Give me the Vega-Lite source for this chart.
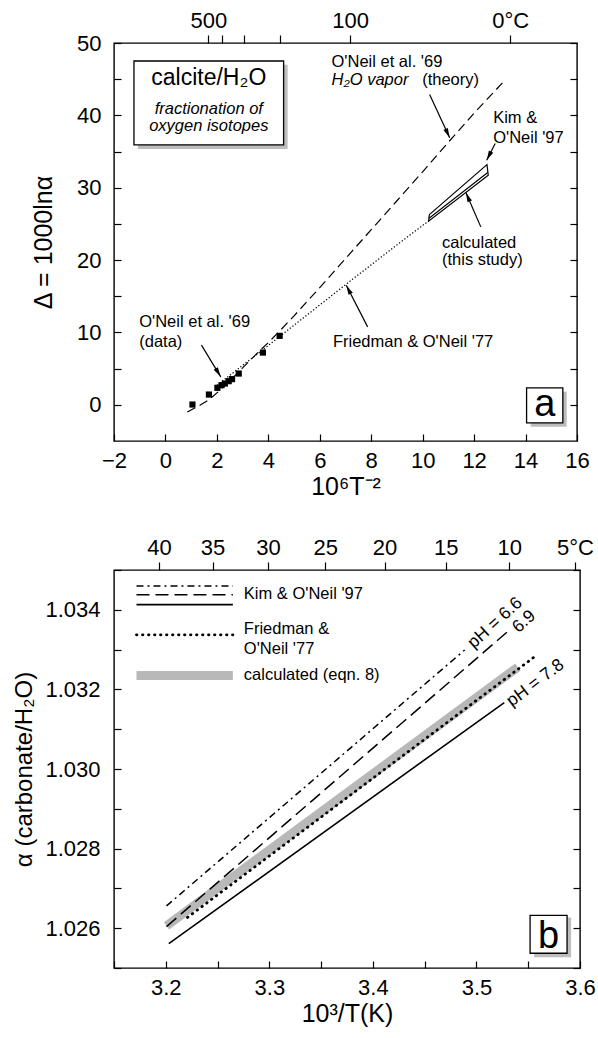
{
  "$schema": "https://vega.github.io/schema/vega-lite/v6.json",
  "padding": {"top": 8, "left": 12, "right": 2, "bottom": 2},
  "spacing": 35,
  "config": {
    "font": "Liberation Sans",
    "view": {"stroke": "#000", "strokeWidth": 1.4},
    "axis": {"grid": false, "domain": false, "tickColor": "#000", "labelColor": "#000", "titleColor": "#000", "labelFont": "Liberation Sans", "titleFont": "Liberation Sans", "labelFontSize": 22, "titleFontSize": 25, "titleFontWeight": "normal", "labelFlush": false, "labelOverlap": false, "labelBound": false, "tickWidth": 1.2},
    "text": {"font": "Liberation Sans", "color": "#000"}
  },
  "vconcat": [
    {
      "width": 463,
      "height": 398,
      "layer": [
        {
          "data": {"values": [{"x": -1.07, "x2": 4.75, "y": 47.0, "y2": 35.36}, {"x": 14.2, "x2": 15.6, "y": 1.8, "y2": -3.04}]},
          "mark": {"type": "rect", "color": "#bdbdbd"},
          "encoding": {
            "x": {"field": "x", "type": "quantitative", "scale": {"domain": [-2, 16], "nice": false, "zero": false}, "axis": null},
            "x2": {"field": "x2"},
            "y": {"field": "y", "type": "quantitative", "scale": {"domain": [-5, 50], "nice": false, "zero": false}, "axis": null},
            "y2": {"field": "y2"}
          }
        },
        {
          "data": {"values": [{"x": -1.224, "x2": 4.594, "y": 47.51, "y2": 35.91}, {"x": 14.04, "x2": 15.45, "y": 2.35, "y2": -2.49}]},
          "mark": {"type": "rect", "fill": "#fff", "stroke": "#000", "strokeWidth": 1.3},
          "encoding": {
            "x": {"field": "x", "type": "quantitative", "axis": null},
            "x2": {"field": "x2"},
            "y": {"field": "y", "type": "quantitative", "axis": null},
            "y2": {"field": "y2"}
          }
        },
        {
          "data": {"values": [{"x": 0.85, "y": -1.0}, {"x": 1.34, "y": -0.05}, {"x": 1.69, "y": 0.7}, {"x": 2.05, "y": 1.8}, {"x": 2.5, "y": 3.3}, {"x": 3.0, "y": 5.1}, {"x": 3.5, "y": 6.9}, {"x": 4.0, "y": 8.6}, {"x": 4.44, "y": 10.2}, {"x": 5.0, "y": 12.3}, {"x": 6.0, "y": 16.2}, {"x": 7.0, "y": 20.2}, {"x": 8.0, "y": 24.2}, {"x": 9.0, "y": 28.2}, {"x": 10.0, "y": 32.2}, {"x": 11.0, "y": 36.3}, {"x": 12.0, "y": 40.3}, {"x": 13.17, "y": 44.75}]},
          "mark": {"type": "line", "color": "#000", "strokeWidth": 1.2, "strokeDash": [9, 5]},
          "encoding": {
            "x": {"field": "x", "type": "quantitative", "scale": {"domain": [-2, 16], "nice": false, "zero": false},
              "axis": {"orient": "bottom", "values": [-2, 0, 2, 4, 6, 8, 10, 12, 14, 16], "tickSize": -7, "labelPadding": 16, "title": "10⁶T⁻²", "titlePadding": 3}},
            "y": {"field": "y", "type": "quantitative", "scale": {"domain": [-5, 50], "nice": false, "zero": false},
              "axis": {"orient": "left", "values": [0, 5, 10, 15, 20, 25, 30, 35, 40, 45, 50], "labelExpr": "datum.value % 10 == 0 ? datum.label : ''", "tickSize": -7, "labelPadding": 20, "title": "Δ = 1000lnα", "titlePadding": 20}}
          }
        },
        {
          "data": {"values": [{"x": 2.0, "y": 2.7}, {"x": 3.0, "y": 5.45}, {"x": 4.0, "y": 8.2}, {"x": 5.0, "y": 11.0}, {"x": 6.0, "y": 13.8}, {"x": 7.0, "y": 16.6}, {"x": 8.0, "y": 19.35}, {"x": 9.0, "y": 22.1}, {"x": 10.23, "y": 25.4}]},
          "mark": {"type": "line", "color": "#000", "strokeWidth": 1.2, "strokeDash": [1.3, 2]},
          "encoding": {
            "x": {"field": "x", "type": "quantitative", "scale": {"domain": [-2, 16], "nice": false, "zero": false},
              "axis": {"orient": "top", "values": [1.67291, 2.20687, 3.04413, 4.46686, 7.1818, 13.40287], "labelExpr": "round(1000/sqrt(datum.value)-273.15) == 500 ? '500' : round(1000/sqrt(datum.value)-273.15) == 100 ? '100' : datum.value > 13 ? '0°C' : ''", "tickSize": 8, "labelPadding": 3, "title": null}},
            "y": {"field": "y", "type": "quantitative", "scale": {"domain": [-5, 50], "nice": false, "zero": false},
              "axis": {"orient": "right", "values": [0, 5, 10, 15, 20, 25, 30, 35, 40, 45, 50], "labels": false, "tickSize": -7, "title": null}}
          }
        },
        {
          "data": {"values": [{"o": 1, "x": 10.26, "y": 26.28}, {"o": 2, "x": 12.5, "y": 33.19}, {"o": 3, "x": 12.55, "y": 31.73}, {"o": 4, "x": 10.23, "y": 25.37}, {"o": 5, "x": 10.26, "y": 26.28}]},
          "mark": {"type": "line", "color": "#000", "strokeWidth": 1.2},
          "encoding": {
            "x": {"field": "x", "type": "quantitative", "axis": null},
            "y": {"field": "y", "type": "quantitative", "axis": null},
            "order": {"field": "o"}
          }
        },
        {
          "data": {"values": [{"x": 10.25, "y": 25.78}, {"x": 12.53, "y": 32.1}]},
          "mark": {"type": "line", "color": "#000", "strokeWidth": 1.1},
          "encoding": {
            "x": {"field": "x", "type": "quantitative", "axis": null},
            "y": {"field": "y", "type": "quantitative", "axis": null}
          }
        },
        {
          "data": {"values": [{"x": 1.05, "y": 0.04}, {"x": 1.69, "y": 1.42}, {"x": 2.02, "y": 2.35}, {"x": 2.18, "y": 2.72}, {"x": 2.31, "y": 2.94}, {"x": 2.46, "y": 3.27}, {"x": 2.59, "y": 3.55}, {"x": 2.85, "y": 4.32}, {"x": 3.79, "y": 7.22}, {"x": 4.44, "y": 9.53}]},
          "mark": {"type": "point", "shape": "square", "filled": true, "color": "#000", "size": 38, "opacity": 1},
          "encoding": {
            "x": {"field": "x", "type": "quantitative", "axis": null},
            "y": {"field": "y", "type": "quantitative", "axis": null}
          }
        },
        {
          "data": {"values": [{"x": 10.27, "y": 42.9, "x2": 11.05, "y2": 36.9}, {"x": 12.82, "y": 36.1, "x2": 12.49, "y2": 33.8}, {"x": 12.26, "y": 24.59, "x2": 11.68, "y2": 29.33}, {"x": 7.86, "y": 10.77, "x2": 7.03, "y2": 16.53}, {"x": 1.4, "y": 8.25, "x2": 2.15, "y2": 3.87}]},
          "mark": {"type": "rule", "color": "#000", "strokeWidth": 1.2},
          "encoding": {
            "x": {"field": "x", "type": "quantitative", "axis": null},
            "y": {"field": "y", "type": "quantitative", "axis": null},
            "x2": {"field": "x2"},
            "y2": {"field": "y2"}
          }
        },
        {
          "data": {"values": [{"x": 11.05, "y": 36.9}]},
          "mark": {"type": "point", "shape": "M0,0L0.6,2.4L-0.6,2.4Z", "filled": true, "color": "#000", "size": 64, "opacity": 1, "angle": 155.2},
          "encoding": {"x": {"field": "x", "type": "quantitative", "axis": null}, "y": {"field": "y", "type": "quantitative", "axis": null}}
        },
        {
          "data": {"values": [{"x": 12.49, "y": 33.8}]},
          "mark": {"type": "point", "shape": "M0,0L0.6,2.4L-0.6,2.4Z", "filled": true, "color": "#000", "size": 64, "opacity": 1, "angle": 207},
          "encoding": {"x": {"field": "x", "type": "quantitative", "axis": null}, "y": {"field": "y", "type": "quantitative", "axis": null}}
        },
        {
          "data": {"values": [{"x": 11.68, "y": 29.33}]},
          "mark": {"type": "point", "shape": "M0,0L0.6,2.4L-0.6,2.4Z", "filled": true, "color": "#000", "size": 64, "opacity": 1, "angle": 336.4},
          "encoding": {"x": {"field": "x", "type": "quantitative", "axis": null}, "y": {"field": "y", "type": "quantitative", "axis": null}}
        },
        {
          "data": {"values": [{"x": 7.03, "y": 16.53}]},
          "mark": {"type": "point", "shape": "M0,0L0.6,2.4L-0.6,2.4Z", "filled": true, "color": "#000", "size": 64, "opacity": 1, "angle": 332.8},
          "encoding": {"x": {"field": "x", "type": "quantitative", "axis": null}, "y": {"field": "y", "type": "quantitative", "axis": null}}
        },
        {
          "data": {"values": [{"x": 2.15, "y": 3.87}]},
          "mark": {"type": "point", "shape": "M0,0L0.6,2.4L-0.6,2.4Z", "filled": true, "color": "#000", "size": 64, "opacity": 1, "angle": 148.7},
          "encoding": {"x": {"field": "x", "type": "quantitative", "axis": null}, "y": {"field": "y", "type": "quantitative", "axis": null}}
        },
        {
          "data": {"values": [{"x": 6.456, "y": 46.69, "t": "O'Neil et al. '69"}, {"x": 9.98, "y": 44.16, "t": "(theory)"}, {"x": 12.74, "y": 38.95, "t": "Kim &"}, {"x": 12.74, "y": 36.19, "t": "O'Neil '97"}, {"x": 10.75, "y": 21.7, "t": "calculated"}, {"x": 10.75, "y": 19.35, "t": "(this study)"}, {"x": 6.51, "y": 8.01, "t": "Friedman & O'Neil '77"}, {"x": -1.02, "y": 10.77, "t": "O'Neil et al. '69"}, {"x": -1.02, "y": 7.95, "t": "(data)"}]},
          "mark": {"type": "text", "align": "left", "baseline": "alphabetic", "fontSize": 16.5},
          "encoding": {"x": {"field": "x", "type": "quantitative", "axis": null}, "y": {"field": "y", "type": "quantitative", "axis": null}, "text": {"field": "t"}}
        },
        {
          "data": {"values": [{"x": 6.456, "y": 44.16, "t": "H₂O vapor"}]},
          "mark": {"type": "text", "align": "left", "baseline": "alphabetic", "fontSize": 16.5, "fontStyle": "italic"},
          "encoding": {"x": {"field": "x", "type": "quantitative", "axis": null}, "y": {"field": "y", "type": "quantitative", "axis": null}, "text": {"field": "t"}}
        },
        {
          "data": {"values": [{"x": 1.685, "y": 40.24, "t": "fractionation of"}, {"x": 1.685, "y": 37.8, "t": "oxygen isotopes"}]},
          "mark": {"type": "text", "align": "center", "baseline": "alphabetic", "fontSize": 16.5, "fontStyle": "italic"},
          "encoding": {"x": {"field": "x", "type": "quantitative", "axis": null}, "y": {"field": "y", "type": "quantitative", "axis": null}, "text": {"field": "t"}}
        },
        {
          "data": {"values": [{"x": 1.685, "y": 44.16, "t": "calcite/H₂O"}]},
          "mark": {"type": "text", "align": "center", "baseline": "alphabetic", "fontSize": 23},
          "encoding": {"x": {"field": "x", "type": "quantitative", "axis": null}, "y": {"field": "y", "type": "quantitative", "axis": null}, "text": {"field": "t"}}
        },
        {
          "data": {"values": [{"x": 14.745, "y": -1.52, "t": "a"}]},
          "mark": {"type": "text", "align": "center", "baseline": "alphabetic", "fontSize": 38},
          "encoding": {"x": {"field": "x", "type": "quantitative", "axis": null}, "y": {"field": "y", "type": "quantitative", "axis": null}, "text": {"field": "t"}}
        }
      ]
    },
    {
      "width": 466,
      "height": 398,
      "layer": [
        {
          "data": {"values": [{"x": 3.5557, "x2": 3.5914, "y": 1.02627, "y2": 1.02527}]},
          "mark": {"type": "rect", "color": "#bdbdbd"},
          "encoding": {
            "x": {"field": "x", "type": "quantitative", "scale": {"domain": [3.15, 3.6], "nice": false, "zero": false}, "axis": null},
            "x2": {"field": "x2"},
            "y": {"field": "y", "type": "quantitative", "scale": {"domain": [1.025, 1.035], "nice": false, "zero": false}, "axis": null},
            "y2": {"field": "y2"}
          }
        },
        {
          "data": {"values": [{"x": 3.5518, "x2": 3.5875, "y": 1.02632, "y2": 1.02537}]},
          "mark": {"type": "rect", "fill": "#fff", "stroke": "#000", "strokeWidth": 1.3},
          "encoding": {
            "x": {"field": "x", "type": "quantitative", "axis": null},
            "x2": {"field": "x2"},
            "y": {"field": "y", "type": "quantitative", "axis": null},
            "y2": {"field": "y2"}
          }
        },
        {
          "data": {"values": [{"x": 3.2007, "y": 1.02606, "g": "m"}, {"x": 3.54, "y": 1.03256, "g": "m"}, {"x": 3.1717, "y": 1.03235, "g": "l"}, {"x": 3.2648, "y": 1.03235, "g": "l"}]},
          "mark": {"type": "line", "color": "#b8b8b8", "strokeWidth": 9, "strokeCap": "butt"},
          "encoding": {
            "x": {"field": "x", "type": "quantitative", "scale": {"domain": [3.15, 3.6], "nice": false, "zero": false},
              "axis": {"orient": "bottom", "values": [3.15, 3.2, 3.25, 3.3, 3.35, 3.4, 3.45, 3.5, 3.55, 3.6], "format": ".1f", "labelExpr": "round(datum.value*100) % 10 == 0 ? datum.label : ''", "tickSize": -7, "labelPadding": 16, "title": "10³/T(K)", "titlePadding": 3}},
            "y": {"field": "y", "type": "quantitative", "scale": {"domain": [1.025, 1.035], "nice": false, "zero": false},
              "axis": {"orient": "left", "values": [1.025, 1.026, 1.027, 1.028, 1.029, 1.03, 1.031, 1.032, 1.033, 1.034, 1.035], "format": ".3f", "labelExpr": "round(datum.value*1000) % 2 == 0 ? datum.label : ''", "tickSize": -7, "labelPadding": 21, "title": "α (carbonate/H₂O)", "titleFontSize": 24, "titlePadding": 8}},
            "detail": {"field": "g"}
          }
        },
        {
          "data": {"values": [{"x": 3.221, "y": 1.02627, "g": "m"}, {"x": 3.5556, "y": 1.03281, "g": "m"}, {"x": 3.1717, "y": 1.03337, "g": "l"}, {"x": 3.2648, "y": 1.03337, "g": "l"}]},
          "mark": {"type": "line", "color": "#000", "strokeWidth": 2.8, "strokeDash": [0.5, 5.5], "strokeCap": "round"},
          "encoding": {
            "x": {"field": "x", "type": "quantitative", "scale": {"domain": [3.15, 3.6], "nice": false, "zero": false},
              "axis": {"orient": "top", "values": [3.19336, 3.24517, 3.2987, 3.35402, 3.41122, 3.47041, 3.5317, 3.59518], "labelExpr": "round(1000/datum.value - 273.15) + (datum.value > 3.59 ? '°C' : '')", "tickSize": 8, "labelPadding": 3, "title": null}},
            "y": {"field": "y", "type": "quantitative", "scale": {"domain": [1.025, 1.035], "nice": false, "zero": false},
              "axis": {"orient": "right", "values": [1.025, 1.026, 1.027, 1.028, 1.029, 1.03, 1.031, 1.032, 1.033, 1.034, 1.035], "labels": false, "tickSize": -7, "title": null}},
            "detail": {"field": "g"}
          }
        },
        {
          "data": {"values": [{"x": 3.2029, "y": 1.02561, "g": "m"}, {"x": 3.5269, "y": 1.03167, "g": "m"}, {"x": 3.1717, "y": 1.03413, "g": "l"}, {"x": 3.2648, "y": 1.03413, "g": "l"}]},
          "mark": {"type": "line", "color": "#000", "strokeWidth": 1.6},
          "encoding": {
            "x": {"field": "x", "type": "quantitative", "axis": null},
            "y": {"field": "y", "type": "quantitative", "axis": null},
            "detail": {"field": "g"}
          }
        },
        {
          "data": {"values": [{"x": 3.2007, "y": 1.02604, "g": "m"}, {"x": 3.53, "y": 1.03345, "g": "m"}, {"x": 3.1717, "y": 1.03438, "g": "l"}, {"x": 3.2648, "y": 1.03438, "g": "l"}]},
          "mark": {"type": "line", "color": "#000", "strokeWidth": 1.5, "strokeDash": [13, 6]},
          "encoding": {
            "x": {"field": "x", "type": "quantitative", "axis": null},
            "y": {"field": "y", "type": "quantitative", "axis": null},
            "detail": {"field": "g"}
          }
        },
        {
          "data": {"values": [{"x": 3.2007, "y": 1.02656, "g": "m"}, {"x": 3.4886, "y": 1.03299, "g": "m"}, {"x": 3.1717, "y": 1.0346, "g": "l"}, {"x": 3.2648, "y": 1.0346, "g": "l"}]},
          "mark": {"type": "line", "color": "#000", "strokeWidth": 1.5, "strokeDash": [7, 4, 2, 4]},
          "encoding": {
            "x": {"field": "x", "type": "quantitative", "axis": null},
            "y": {"field": "y", "type": "quantitative", "axis": null},
            "detail": {"field": "g"}
          }
        },
        {
          "data": {"values": [{"x": 3.2754, "y": 1.0344, "t": "Kim & O'Neil '97"}, {"x": 3.2754, "y": 1.03351, "t": "Friedman &"}, {"x": 3.2754, "y": 1.03302, "t": "O'Neil '77"}, {"x": 3.2754, "y": 1.03235, "t": "calculated (eqn. 8)"}]},
          "mark": {"type": "text", "align": "left", "baseline": "middle", "fontSize": 16.5},
          "encoding": {"x": {"field": "x", "type": "quantitative", "axis": null}, "y": {"field": "y", "type": "quantitative", "axis": null}, "text": {"field": "t"}}
        },
        {
          "data": {"values": [{"x": 3.518, "y": 1.03367, "t": "pH = 6.6"}, {"x": 3.546, "y": 1.0337, "t": "6.9"}]},
          "mark": {"type": "text", "align": "center", "baseline": "middle", "fontSize": 17.5, "angle": 318},
          "encoding": {"x": {"field": "x", "type": "quantitative", "axis": null}, "y": {"field": "y", "type": "quantitative", "axis": null}, "text": {"field": "t"}}
        },
        {
          "data": {"values": [{"x": 3.557, "y": 1.03216, "t": "pH = 7.8"}]},
          "mark": {"type": "text", "align": "center", "baseline": "middle", "fontSize": 17.5, "angle": 323},
          "encoding": {"x": {"field": "x", "type": "quantitative", "axis": null}, "y": {"field": "y", "type": "quantitative", "axis": null}, "text": {"field": "t"}}
        },
        {
          "data": {"values": [{"x": 3.5697, "y": 1.02551, "t": "b"}]},
          "mark": {"type": "text", "align": "center", "baseline": "alphabetic", "fontSize": 38},
          "encoding": {"x": {"field": "x", "type": "quantitative", "axis": null}, "y": {"field": "y", "type": "quantitative", "axis": null}, "text": {"field": "t"}}
        }
      ]
    }
  ]
}
